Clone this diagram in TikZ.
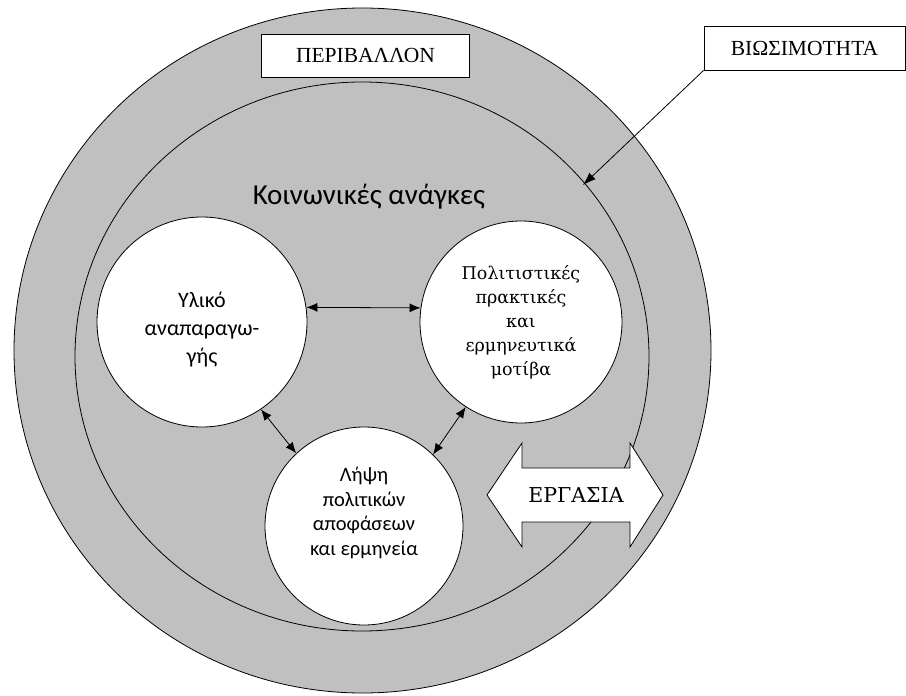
\documentclass[tikz,border=0pt]{standalone}
\usepackage{fontspec}
\setmainfont{Carlito}
\newfontfamily\timesgr{Liberation Serif}
\newfontfamily\cambgr{DejaVu Serif}
\usetikzlibrary{arrows.meta}
\definecolor{ringgray}{RGB}{192,192,192}

\begin{document}
\begin{tikzpicture}[x=1pt,y=-1pt,
  ring/.style={draw=black,line width=0.8pt,fill=ringgray},
  need/.style={circle,draw=black,line width=0.8pt,fill=white,minimum size=#1,inner sep=0pt},
  tagbox/.style={draw=black,line width=0.9pt,fill=white,inner sep=0pt,font=\timesgr\fontsize{21.5}{24}\selectfont},
  link/.style={{Latex[length=11pt,width=9pt]}-{Latex[length=11pt,width=9pt]},line width=0.8pt}]
  \useasboundingbox (0,0) rectangle (906,696);
  % the two rings
  \draw[ring] (362.5,350.5) ellipse [x radius=348.5, y radius=342.5];
  \draw[ring] (362,356.5) ellipse [x radius=287, y radius=274.5];
  \node[tagbox,minimum width=208pt,minimum height=43pt] (env) at (365.5,55.5) {ΠΕΡΙΒΑΛΛΟΝ};
  \node[tagbox,minimum width=201pt,minimum height=44pt] (sus) at (804.5,48) {ΒΙΩΣΙΜΟΤΗΤΑ};
  \coordinate (ringhit) at (583,185);
  \draw[-{Latex[length=13pt,width=9pt]},line width=0.8pt] (sus.south west) -- (ringhit);
  \node[anchor=base,font=\fontsize{29}{34}\selectfont] (needs) at (369,204) {Κοινωνικές ανάγκες};
  % the three circles
  \node[need=210pt] (mat) at (202,322) {};
  \node[need=202pt] (cul) at (521,322) {};
  \node[need=198pt] (pol) at (364,526) {};
  \node[align=center,font=\fontsize{22}{28}\selectfont] (mattext) at (202,330)
    {Υλικό\\αναπαραγω-\\γής};
  \node[align=center,font=\cambgr\fontsize{17.5}{24}\selectfont] (cultext) at (521,322)
    {Πολιτιστικές\\πρακτικές\\και\\ερμηνευτικά\\μοτίβα};
  \node[align=center,font=\fontsize{20.5}{24.5}\selectfont] (poltext) at (364,513)
    {Λήψη\\πολιτικών\\αποφάσεων\\και ερμηνεία};
  \draw[link] (mat.8) -- (cul.172);
  \draw[link] (mat.-56) -- (pol.133);
  \draw[link] (cul.237) -- (pol.46);
  % work arrow
  \draw[line width=0.8pt,fill=white] (487,495) -- (522,443) -- (522,468) -- (630,468)
    -- (630,443) -- (663,495) -- (630,547) -- (630,522) -- (522,522) -- (522,547) -- cycle;
  \node[font=\cambgr\fontsize{20.5}{24}\selectfont] (work) at (576,495) {ΕΡΓΑΣΙΑ};
\end{tikzpicture}
\end{document}
